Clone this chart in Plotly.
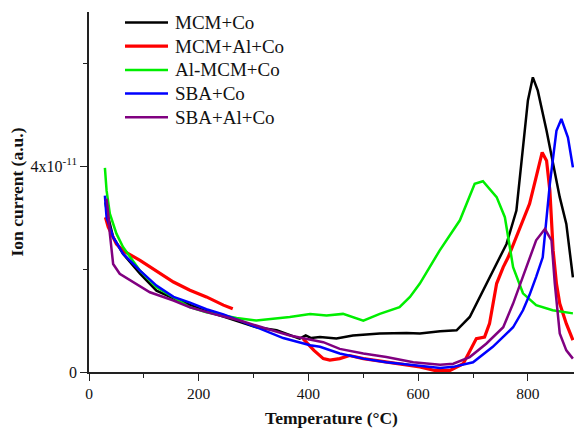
import plotly.graph_objects as go

# Temperature (°C) and ion current (units of 1e-11 A, a.u.)
mcm_co_x = [30, 32, 44, 62, 93, 123, 154, 184, 214, 245, 275, 305, 342, 366, 384, 395, 405, 421, 451, 481,
            530, 579, 603, 640, 670, 694, 712, 743, 761, 779, 791, 800, 809, 818, 834, 858, 870, 882]
mcm_co_y = [3.30, 3.15, 2.62, 2.30, 1.91, 1.58, 1.43, 1.30, 1.18, 1.08, 0.97, 0.87, 0.81, 0.72, 0.65, 0.71,
            0.66, 0.68, 0.65, 0.71, 0.75, 0.76, 0.75, 0.79, 0.81, 1.07, 1.46, 2.10, 2.49, 3.14, 4.30, 5.28,
            5.73, 5.47, 4.69, 3.40, 2.88, 1.84]

mcm_al_co_x = [30, 35, 50, 62, 93, 123, 154, 184, 214, 245, 262, None, 390, 410, 427, 439, 457, 475, 500,
               550, 603, 630, 658, 682, 694, 706, 721, 730, 743, 755, 764, 779, 791, 803, 815, 826, 834,
               840, 846, 852, 858, 870, 882]
mcm_al_co_y = [3.01, 2.82, 2.49, 2.36, 2.17, 1.97, 1.75, 1.59, 1.46, 1.30, 1.23, None, 0.65, 0.42, 0.26,
               0.23, 0.26, 0.32, 0.26, 0.18, 0.10, 0.03, 0.03, 0.16, 0.42, 0.65, 0.68, 0.94, 1.72, 2.04,
               2.23, 2.62, 2.95, 3.27, 3.79, 4.27, 4.11, 3.53, 2.36, 1.72, 1.33, 0.94, 0.62]

al_mcm_co_x = [29, 32, 38, 50, 62, 93, 123, 154, 184, 214, 257, 269, 305, 342, 366, 403, 433, 463, 500,
               530, 566, 585, 603, 639, 676, 703, 718, 743, 758, 773, 791, 815, 845, 882]
al_mcm_co_y = [3.97, 3.53, 3.08, 2.69, 2.43, 1.97, 1.65, 1.46, 1.26, 1.16, 1.07, 1.05, 1.00, 1.04, 1.07,
               1.13, 1.10, 1.13, 1.00, 1.13, 1.26, 1.46, 1.72, 2.36, 2.95, 3.66, 3.71, 3.40, 3.01, 2.04,
               1.53, 1.30, 1.20, 1.14]

sba_co_x = [29, 32, 44, 62, 93, 123, 154, 184, 214, 245, 275, 305, 354, 403, 421, 457, 500, 542, 597, 640,
            664, 700, 736, 773, 791, 803, 815, 827, 840, 852, 861, 873, 882]
sba_co_y = [3.43, 3.01, 2.62, 2.30, 1.97, 1.68, 1.46, 1.35, 1.22, 1.12, 1.00, 0.87, 0.66, 0.52, 0.49, 0.36,
            0.26, 0.19, 0.13, 0.08, 0.10, 0.19, 0.49, 0.87, 1.20, 1.50, 1.85, 2.23, 3.66, 4.69, 4.92, 4.56,
            3.98]

sba_al_co_x = [32, 35, 38, 44, 56, 81, 111, 154, 184, 226, 275, 324, 366, 427, 457, 500, 542, 591, 640,
               664, 694, 724, 755, 773, 797, 815, 831, 843, 849, 858, 870, 882]
sba_al_co_y = [3.37, 3.10, 2.69, 2.10, 1.91, 1.75, 1.55, 1.39, 1.26, 1.13, 1.00, 0.84, 0.71, 0.58, 0.45,
               0.36, 0.29, 0.19, 0.14, 0.16, 0.29, 0.55, 0.87, 1.33, 2.04, 2.56, 2.78, 2.56, 1.72, 0.75,
               0.42, 0.26]

series_names = ["MCM+Co", "MCM+Al+Co", "Al-MCM+Co", "SBA+Co", "SBA+Al+Co"]
series_colors = ["#000000", "#ff0000", "#00ee00", "#0000ff", "#800080"]
series_widths = [2.5, 3.2, 2.5, 2.5, 2.5]

y_tick_vals = [0, 4e-11]
y_tick_text = ["0", "4x10<sup>-11</sup>"]
x_tick_vals = [0, 200, 400, 600, 800]

SCALE = 1e-11
data = [(mcm_co_x, mcm_co_y), (mcm_al_co_x, mcm_al_co_y), (al_mcm_co_x, al_mcm_co_y),
        (sba_co_x, sba_co_y), (sba_al_co_x, sba_al_co_y)]

W, H = 574, 428
ML, MR, MT, MB = 89, 0, 12, 56
PW, PH = W - ML - MR, H - MT - MB

fig = go.Figure()
for (xs, ys), name, color, w in zip(data, series_names, series_colors, series_widths):
    fig.add_trace(go.Scatter(
        x=xs, y=[None if v is None else v * SCALE for v in ys],
        mode="lines", name=name, line=dict(color=color, width=w), connectgaps=False,
        showlegend=False))

font_family = "Liberation Serif, Times New Roman, serif"

# Legend drawn in paper coordinates (pixel layout converted to paper fractions)
legend_x0_px, legend_x1_px, legend_text_px = 125, 168, 173
legend_top_px, legend_step_px = 22.5, 23.7
for i, (name, color, w) in enumerate(zip(series_names, series_colors, series_widths)):
    py = legend_top_px + i * legend_step_px
    yp = (H - MB - py) / PH
    fig.add_shape(type="line", xref="paper", yref="paper",
                  x0=(legend_x0_px - ML) / PW, x1=(legend_x1_px - ML) / PW, y0=yp, y1=yp,
                  line=dict(color=color, width=w))
    fig.add_annotation(xref="paper", yref="paper", x=(legend_text_px - ML) / PW, y=yp,
                       xanchor="left", yanchor="middle", showarrow=False, text=name,
                       font=dict(size=19, family=font_family, color="#111111"))

fig.update_layout(
    width=W, height=H,
    margin=dict(l=ML, r=MR, t=MT, b=MB),
    paper_bgcolor="white", plot_bgcolor="white",
    font=dict(family=font_family, color="#111111", size=15),
    showlegend=False,
    xaxis=dict(range=[0, 884], showline=True, linecolor="#222222", linewidth=1.5, showgrid=False,
               zeroline=False, ticks="outside", ticklen=7, tickwidth=1.3, tickcolor="#222222",
               tickvals=x_tick_vals,
               minor=dict(tickvals=[100, 300, 500, 700], ticks="outside", ticklen=4, tickwidth=1.3,
                          tickcolor="#222222"),
               tickfont=dict(size=15.5),
               title=dict(text="<b>Temperature (°C)</b>", font=dict(size=17.5), standoff=13)),
    yaxis=dict(range=[0, 7e-11], showline=True, linecolor="#222222", linewidth=1.5, showgrid=False,
               zeroline=False, ticks="outside", ticklen=7, tickwidth=1.3, tickcolor="#222222",
               tickvals=y_tick_vals, ticktext=y_tick_text,
               minor=dict(tickvals=[2e-11, 6e-11], ticks="outside", ticklen=4, tickwidth=1.3,
                          tickcolor="#222222"),
               tickfont=dict(size=16),
               title=dict(text="<b>Ion current (a.u.)</b>", font=dict(size=17.5), standoff=2)),
)

fig.write_html("out.html")
